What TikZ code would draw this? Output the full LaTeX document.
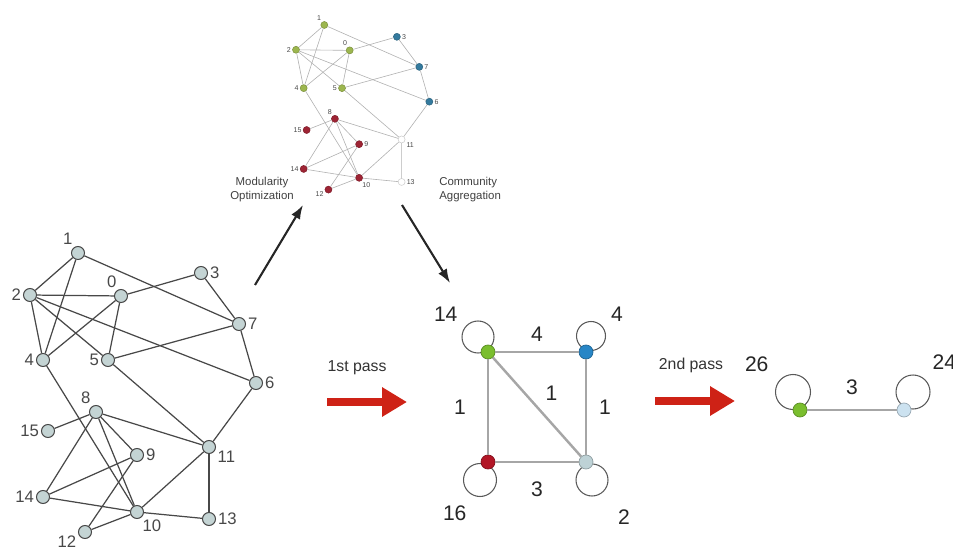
\documentclass[tikz,border=0pt]{standalone}
\usepackage{fontspec}
\setmainfont{Liberation Sans}
\usepackage{xcolor}
\usepackage{tikz}
\usetikzlibrary{arrows.meta,positioning,backgrounds}
\definecolor{linegrey}{RGB}{72,72,72}
\definecolor{vtxfill}{RGB}{196,212,212}
\definecolor{commgreen}{RGB}{156,182,78}
\definecolor{commblue}{RGB}{52,122,158}
\definecolor{commred}{RGB}{158,36,52}
\definecolor{supgreen}{RGB}{122,190,46}
\definecolor{supblue}{RGB}{40,134,198}
\definecolor{supred}{RGB}{178,22,38}
\definecolor{suplight}{RGB}{190,210,214}
\definecolor{suppale}{RGB}{204,226,240}
\definecolor{passred}{RGB}{206,34,22}

% node/x/y/label angle/community
\def\graphnodes{0/121/296/110/commgreen,1/78/253/120/commgreen,2/30/295/180/commgreen,%
3/201/273/0/commblue,4/43/360/180/commgreen,5/108/360/180/commgreen,6/256/383/0/commblue,%
7/239/324/0/commblue,8/96/412/120/commred,9/137/455/0/commred,10/137/512/-60/commred,%
11/209/447/-20/white,12/85/532/195/commred,13/209/519/0/white,14/43/497/180/commred,%
15/48/431/180/commred}
\def\graphedges{0/2,0/3,0/4,0/5,1/2,1/4,1/7,2/4,2/5,2/6,3/7,4/10,5/7,5/11,6/7,6/11,%
8/9,8/10,8/11,8/14,8/15,9/12,9/14,10/11,10/12,10/13,10/14,11/13}

\begin{document}
\begin{tikzpicture}[x=0.02cm,y=-0.02cm,font=\fontsize{9.5}{11}\selectfont]
  \tikzset{
    vtx/.style={circle,draw=linegrey,fill=vtxfill,line width=0.6pt,inner sep=0pt,minimum size=0.26cm},
    vtxlbl/.style={text=linegrey,inner sep=1pt},
    graphedge/.style={draw=linegrey,line width=0.7pt},
    tvtx/.style={circle,fill=#1,draw=#1!80!black,line width=0.3pt,inner sep=0pt,minimum size=0.14cm},
    tvtxlbl/.style={font=\fontsize{4}{5}\selectfont,text=linegrey,inner sep=0.6pt},
    smalledge/.style={draw=black!30,line width=0.35pt},
    supnode/.style={circle,fill=#1,draw=#1!75!black,line width=0.4pt,inner sep=0pt,minimum size=0.28cm},
    superedge/.style={draw=black!35,line width=1.4pt},
    loopline/.style={draw=black!65,line width=0.6pt},
    wlbl/.style={font=\fontsize{12}{14}\selectfont,text=black!85,inner sep=0pt},
    passarrow/.style={draw=passred,line width=4.5pt,-{Triangle[length=0.5cm,width=0.56cm]}},
    flowarrow/.style={draw=black!85,line width=1.2pt,-{Latex[length=0.28cm,width=0.2cm]}},
    steptext/.style={font=\fontsize{6.5}{8}\selectfont,text=black!75,inner sep=0pt},
    passlbl/.style={font=\fontsize{9}{11}\selectfont,text=black!80,inner sep=0pt}
  }
  \useasboundingbox (0,0) rectangle (953,550);

  % original network
  \foreach \n/\x/\y/\p/\c in \graphnodes
    \node[vtx,label={[vtxlbl]\p:\n}] (a\n) at (\x,\y) {};
  \foreach \u/\v in \graphedges
    \draw[graphedge] (a\u) -- (a\v);

  % communities after modularity optimization
  \begin{scope}[shift={(278.3,-124.27)},scale=0.59]
    \foreach \n/\x/\y/\p/\c in \graphnodes
      \node[tvtx=\c,label={[tvtxlbl]\p:\n}] (t\n) at (\x,\y) {};
    \foreach \u/\v in \graphedges
      \draw[smalledge] (t\u) -- (t\v);
  \end{scope}

  \coordinate (mo1) at (255,285); \coordinate (mo2) at (303,205);
  \coordinate (ca1) at (402,205); \coordinate (ca2) at (450,283);
  \draw[flowarrow] (mo1) -- (mo2);
  \draw[flowarrow] (ca1) -- (ca2);
  \node[steptext,align=center] (modopt) at (262,190) {Modularity\\Optimization};
  \node[steptext,align=left,anchor=west] (comagg) at (439,190) {Community\\Aggregation};

  % first pass
  \node[passlbl] (pass1) at (357,368) {1st pass};
  \coordinate (p1a) at (327,402); \coordinate (p1b) at (407,402);
  \draw[passarrow] (p1a) -- (p1b);

  \node[supnode=supgreen] (cg) at (488,352) {};
  \node[supnode=supblue] (cb) at (586,352) {};
  \node[supnode=supred] (cr) at (488,462) {};
  \node[supnode=suplight] (cw) at (586,462) {};
  \draw[superedge] (cg) -- node[wlbl,above=0.19cm] {4} (cb);
  \draw[superedge] (cg) -- node[wlbl,left=0.42cm] {1} (cr);
  \draw[superedge] (cg) -- node[wlbl,above right=0.1cm and 0.15cm] {1} (cw);
  \draw[superedge] (cb) -- node[wlbl,right=0.24cm] {1} (cw);
  \draw[superedge] (cr) -- node[wlbl,below=0.37cm] {3} (cw);
  \begin{scope}[on background layer]
    \draw[loopline] (cg.center) ++(-10,-15) circle[radius=0.32cm];
    \draw[loopline] (cb.center) ++(5,-16) circle[radius=0.29cm];
    \draw[loopline] (cr.center) ++(-8,18) circle[radius=0.33cm];
    \draw[loopline] (cw.center) ++(6,18) circle[radius=0.32cm];
  \end{scope}
  \node[wlbl,above left=0.5cm and 0.5cm of cg] (w14) {14};
  \node[wlbl,above right=0.49cm and 0.39cm of cb] (w4) {4};
  \node[wlbl,below left=0.77cm and 0.32cm of cr] (w16) {16};
  \node[wlbl,below right=0.85cm and 0.53cm of cw] (w2) {2};

  % second pass
  \node[passlbl] (pass2) at (691,365) {2nd pass};
  \coordinate (p2a) at (655,401); \coordinate (p2b) at (735,401);
  \draw[passarrow] (p2a) -- (p2b);

  \node[supnode=supgreen] (rg) at (800,410) {};
  \node[supnode=suppale] (rw) at (904,410) {};
  \draw[superedge] (rg) -- node[wlbl,above=0.29cm] {3} (rw);
  \begin{scope}[on background layer]
    \draw[loopline] (rg.center) ++(-7,-18) circle[radius=0.35cm];
    \draw[loopline] (rw.center) ++(9,-18) circle[radius=0.34cm];
  \end{scope}
  \node[wlbl,above left=0.65cm and 0.52cm of rg] (r26) {26};
  \node[wlbl,above right=0.69cm and 0.46cm of rw] (r24) {24};
\end{tikzpicture}
\end{document}
